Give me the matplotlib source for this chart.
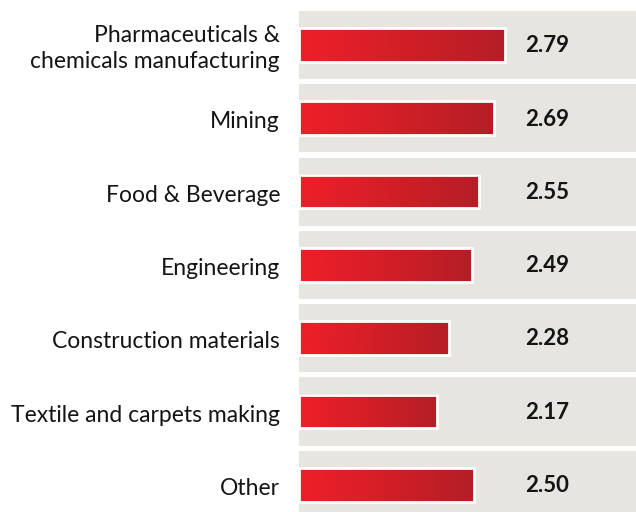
import numpy as np
import matplotlib
matplotlib.use('Agg')
import matplotlib.pyplot as plt
from matplotlib.colors import LinearSegmentedColormap
from matplotlib.patches import Rectangle

categories = ['Pharmaceuticals &\nchemicals manufacturing', 'Mining', 'Food & Beverage',
              'Engineering', 'Construction materials', 'Textile and carpets making', 'Other']
values = [2.79, 2.69, 2.55, 2.49, 2.28, 2.17, 2.50]

panel_color = '#e6e5df'
bar_cmap = LinearSegmentedColormap.from_list('redgrad', ['#ee1f29', '#d21f27', '#b41e26'])

plt.rcParams['font.family'] = ['Lato', 'DejaVu Sans']

fig = plt.figure(figsize=(6.36, 5.12), dpi=100)
ax = fig.add_axes([299 / 636, 0, 1 - 299 / 636, 1])
x0, x1 = 0.91, 3.98
ax.set_xlim(x0, x1)
ax.set_ylim(6.371, -0.614)
ax.axis('off')

panel_h = 0.928
bar_h = 0.46
grad = np.linspace(0, 1, 256).reshape(1, -1)

for i, (cat, val) in enumerate(zip(categories, values)):
    # grey background strip for the row
    ax.add_patch(Rectangle((x0, i - panel_h / 2), x1 - x0, panel_h,
                           facecolor=panel_color, edgecolor='none', zorder=0))
    # gradient-filled bar with a white frame
    ax.imshow(grad, cmap=bar_cmap, aspect='auto', interpolation='bilinear',
              extent=(x0, val, i + bar_h / 2, i - bar_h / 2), zorder=2)
    ax.add_patch(Rectangle((x0, i - bar_h / 2), val - x0, bar_h,
                           facecolor='none', edgecolor='white', linewidth=2.0, zorder=3))
    ax.text(0.67, i + 0.01, f'{val:.2f}', transform=ax.get_yaxis_transform(),
            ha='left', va='center', fontsize=16, fontweight='bold', color='#141414')
    ax.text(-19 / 337, i + 0.05, cat, transform=ax.get_yaxis_transform(),
            ha='right', va='center', fontsize=16.5, color='#141414', linespacing=1.32,
            clip_on=False)

ax.set_xlim(x0, x1)
ax.set_ylim(6.371, -0.614)

fig.savefig('out.png', dpi=100)
